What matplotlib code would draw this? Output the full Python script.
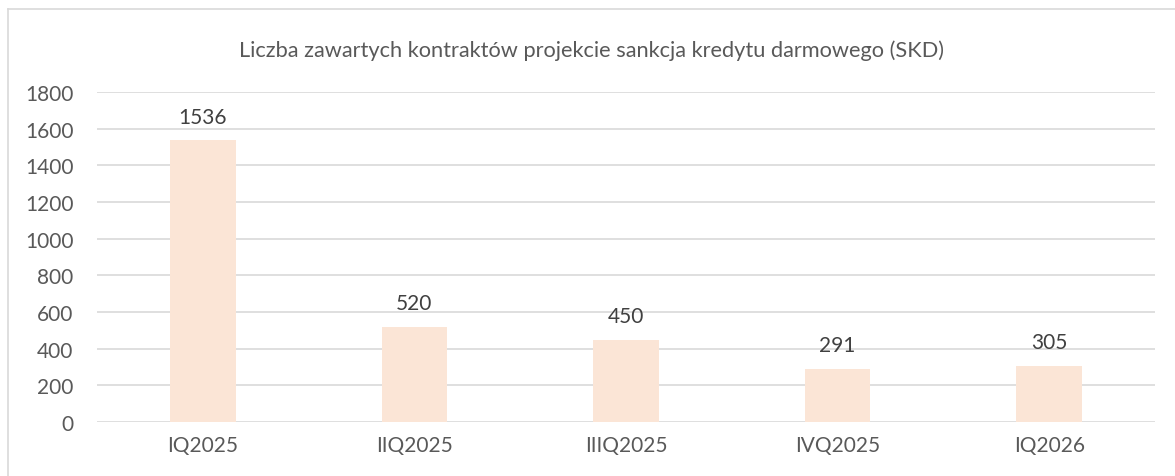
import matplotlib.pyplot as plt
import numpy as np
from matplotlib.lines import Line2D

# data
quarters = ['IQ2025', 'IIQ2025', 'IIIQ2025', 'IVQ2025', 'IQ2026']
contracts = [1536, 520, 450, 291, 305]
yticks = [0, 200, 400, 600, 800, 1000, 1200, 1400, 1600, 1800]
title = 'Liczba zawartych kontraktów projekcie sankcja kredytu darmowego (SKD)'

txt = '#595959'
plt.rcParams['font.family'] = ['Lato', 'DejaVu Sans']

fig = plt.figure(figsize=(11.75, 4.77), dpi=100)
ax = fig.add_axes([0.0826, 0.1132, 0.9004, 0.6918])

x = np.arange(len(quarters))
ax.bar(x, contracts, width=0.31, color='#fbe5d6', zorder=2)
for xi, v in zip(x, contracts):
    ax.annotate(str(v), (xi, v), xytext=(0, 10), textcoords='offset points',
                ha='center', va='bottom', fontsize=15, color='#404040')

ax.set_xlim(-0.5, len(quarters) - 0.5)
ax.set_ylim(0, 1800)
ax.set_yticks(yticks)
ax.set_xticks(x)
ax.set_xticklabels(quarters)
ax.tick_params(length=0, labelsize=15, colors=txt)
ax.tick_params(axis='y', pad=17)
ax.tick_params(axis='x', pad=9)
ax.grid(axis='y', color='#d9d9d9', linewidth=1.2, zorder=0)
for s in ax.spines.values():
    s.set_visible(False)

fig.text(0.503, 0.893, title, ha='center', va='center', fontsize=15.7, color=txt)

# chart-area border (top and left edge visible)
fig.add_artist(Line2D([0.0068, 0.0068], [0, 0.979], color='#d9d9d9', linewidth=1.2))
fig.add_artist(Line2D([0.0068, 1.0], [0.979, 0.979], color='#d9d9d9', linewidth=1.2))

fig.savefig('out.png', dpi=100)
